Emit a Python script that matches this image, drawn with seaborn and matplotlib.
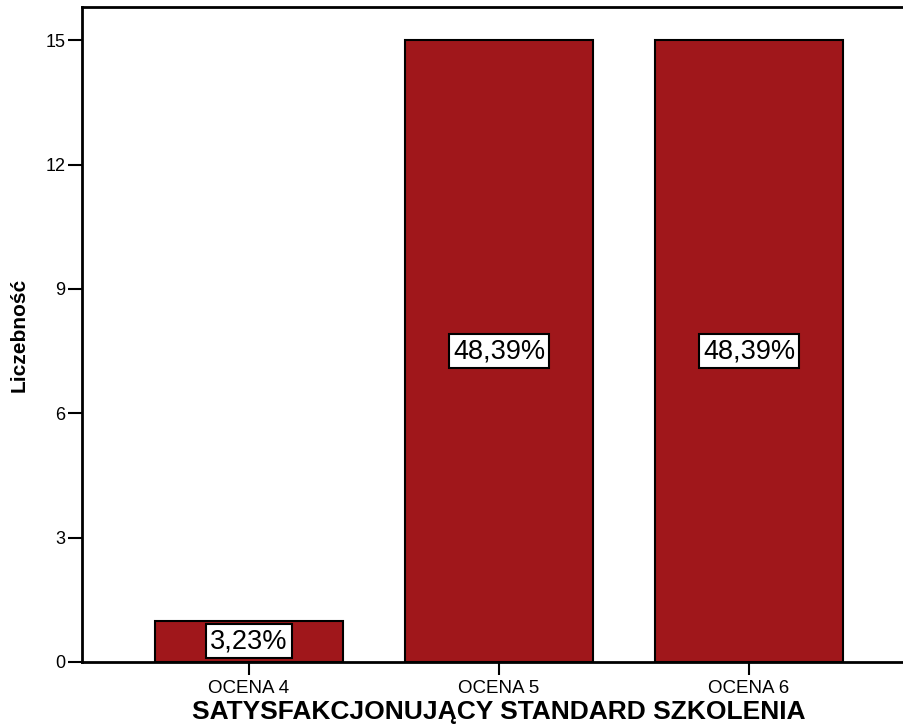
import pandas as pd
import numpy as np
import matplotlib.pyplot as plt
import seaborn as sns

categories = ['OCENA 4', 'OCENA 5', 'OCENA 6']
counts = [1, 15, 15]
percents = ['3,23%', '48,39%', '48,39%']
yticks = [0, 3, 6, 9, 12, 15]

df = pd.DataFrame({'ocena': categories, 'liczebnosc': counts})

sns.set_style('white')
plt.rcParams['font.family'] = ['Liberation Sans', 'DejaVu Sans']
plt.rcParams['text.color'] = 'black'
plt.rcParams['axes.labelcolor'] = 'black'
plt.rcParams['xtick.color'] = 'black'
plt.rcParams['ytick.color'] = 'black'

fig = plt.figure(figsize=(9.04, 7.25), dpi=100)
ax = fig.add_axes([82 / 904, 63 / 725, 834 / 904, 655 / 725])

sns.barplot(data=df, x='ocena', y='liczebnosc', color='#A0171B', saturation=1,
            width=0.752, edgecolor='black', linewidth=1.5, ax=ax)

ax.bar_label(ax.containers[0], labels=percents, label_type='center', fontsize=19.5,
             bbox=dict(boxstyle='square,pad=0.14', facecolor='white', edgecolor='black', linewidth=1.5))

ax.set_xlim(-0.668, 2.668)
ax.set_ylim(0, 15.8)
ax.set_yticks(yticks)
ax.tick_params(axis='y', direction='out', length=10, width=1.5, labelsize=13, pad=2, left=True)
ax.tick_params(axis='x', direction='out', length=9, width=1.5, labelsize=13.5, pad=4, bottom=True)

for s in ax.spines.values():
    s.set_linewidth(2)
    s.set_color('black')

ax.set_xlabel('SATYSFAKCJONUJĄCY STANDARD SZKOLENIA', fontsize=19, fontweight='bold', labelpad=2)
ax.set_ylabel('Liczebność', fontsize=15, fontweight='bold', labelpad=12)

fig.savefig('out.png', dpi=100)
